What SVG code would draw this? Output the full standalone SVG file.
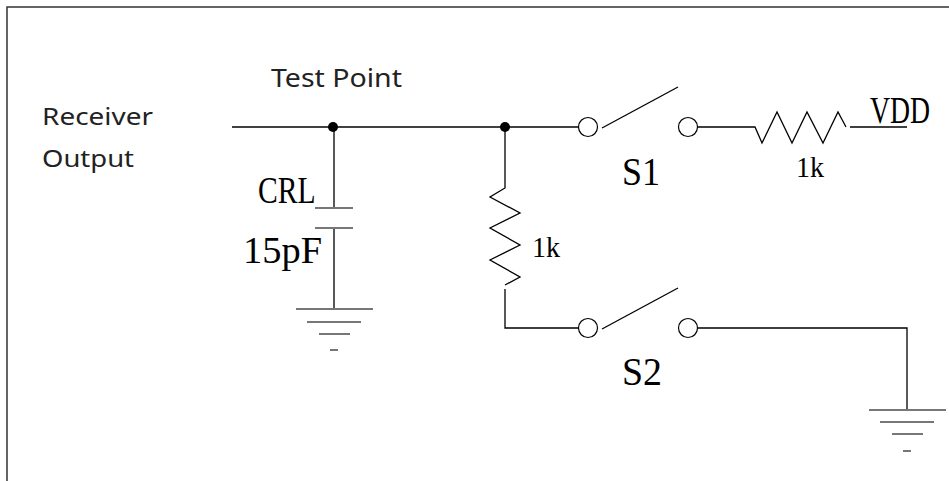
<svg xmlns="http://www.w3.org/2000/svg" width="949" height="481" viewBox="0 0 949 481">
<style>
.w{fill:none;stroke:#000;stroke-width:1.3}
.g{fill:none;stroke:#777;stroke-width:2}
.c{fill:#fff;stroke:#000;stroke-width:1.2}
.s{font-family:"Noto Sans","DejaVu Sans",sans-serif;fill:#222}
.r{font-family:"Liberation Serif","Times New Roman",serif;fill:#000}
</style>
<rect width="949" height="481" fill="#fff"/>
<g id="border"><path d="M7 481V7H949" fill="none" stroke="#333" stroke-width="1.5"/></g>
<g id="connectors">
<path class="w" d="M232 127H579"/>
<path class="w" d="M698 127H755L762 143L777 112L792 143L807 112L823 143L838 112L846 127M850 127H907"/>
<path class="w" d="M334 127V209M334 228V309"/>
<path class="w" d="M505 127V188L490 197L520 213L490 228L520 245L490 260L520 277L505 285M505 289V328H578"/>
<path class="w" d="M698 328H907V410"/>
</g>
<g id="tp1"><circle cx="333" cy="127" r="5" fill="#000"/></g>
<g id="tp2"><circle cx="505" cy="127" r="5" fill="#000"/></g>
<g id="cap">
<path class="g" d="M315 208H353M315 228H353"/>
</g>
<g id="gnd1">
<path class="g" d="M296 309H373M307 322H361M319 334H350M330 350H338"/>
</g>
<g id="gnd2">
<path class="g" d="M869 410H946M880 422H934M892 434H923M903 451H911"/>
</g>
<g id="s1">
<circle class="c" cx="588" cy="127" r="9.5"/>
<circle class="c" cx="688" cy="127" r="9.5"/>
<path class="w" d="M602 128L678 87"/>
</g>
<g id="s2">
<circle class="c" cx="588" cy="328" r="9.5"/>
<circle class="c" cx="688" cy="328" r="9.5"/>
<path class="w" d="M602 329L678 288"/>
</g>
<g id="labels">
<text class="s" x="271" y="87" font-size="26" textLength="131" lengthAdjust="spacingAndGlyphs">Test Point</text>
<text class="s" x="42" y="125" font-size="24" textLength="111" lengthAdjust="spacingAndGlyphs">Receiver</text>
<text class="s" x="42" y="167" font-size="24" textLength="92" lengthAdjust="spacingAndGlyphs">Output</text>
<text class="r" transform="translate(258 203) scale(0.8 1)" font-size="37">CRL</text>
<text class="r" x="243" y="263" font-size="37" textLength="79" lengthAdjust="spacingAndGlyphs">15pF</text>
<text class="r" x="532" y="257" font-size="29" textLength="28" lengthAdjust="spacingAndGlyphs">1k</text>
<text class="r" x="622" y="185" font-size="39" textLength="38" lengthAdjust="spacingAndGlyphs">S1</text>
<text class="r" x="622" y="385" font-size="39" textLength="40" lengthAdjust="spacingAndGlyphs">S2</text>
<text class="r" x="796" y="177" font-size="29" textLength="28" lengthAdjust="spacingAndGlyphs">1k</text>
<text class="r" transform="translate(870 123) scale(0.73 1)" font-size="38">VDD</text>
</g>
</svg>
